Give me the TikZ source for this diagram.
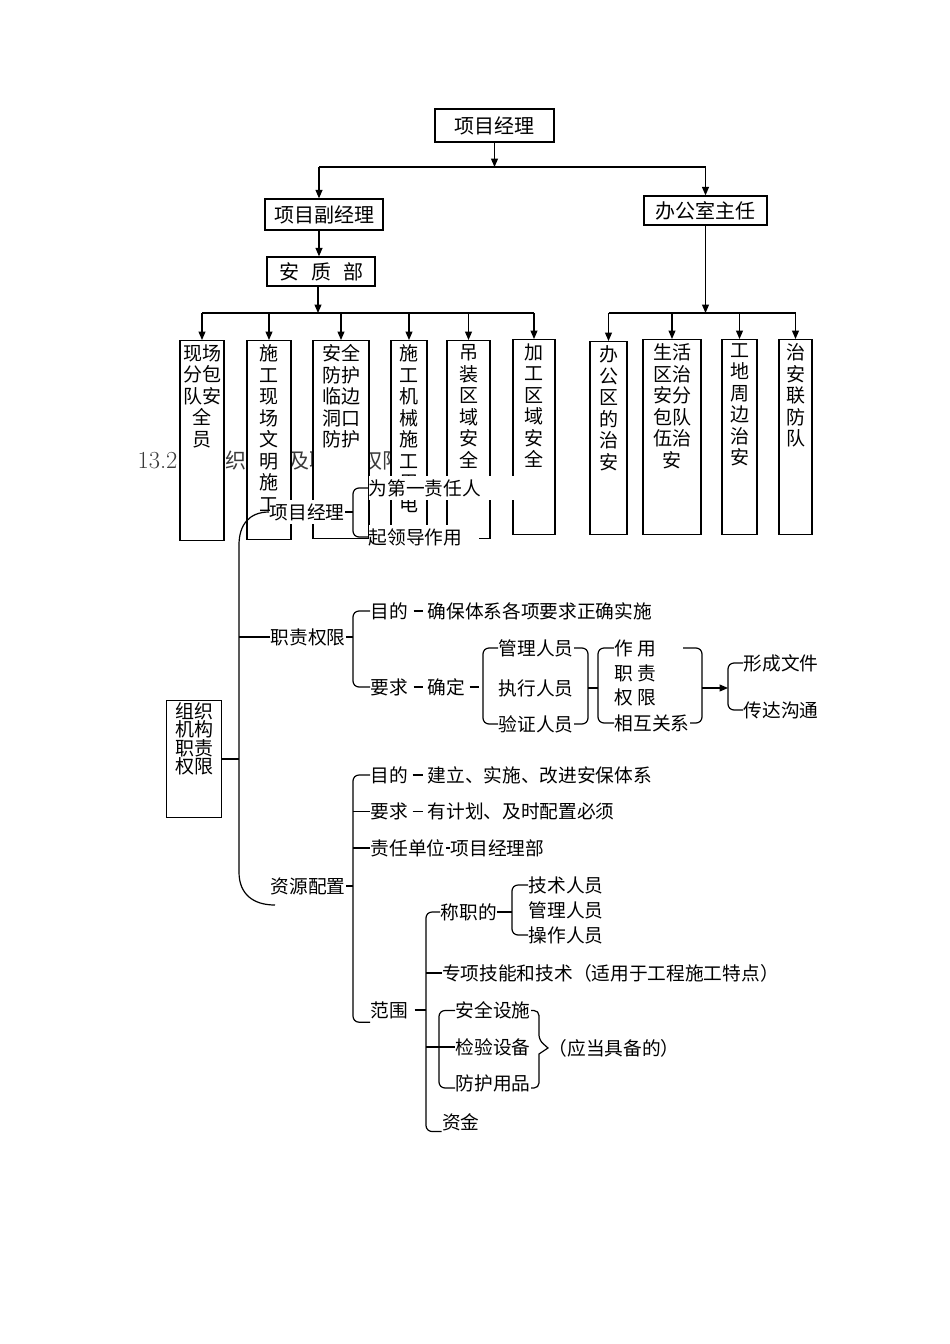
\documentclass[tikz,border=0pt]{standalone}
\usepackage{fontspec}
\usepackage{tikz}
\usetikzlibrary{arrows.meta,calc}
\newfontfamily\cjk{Noto Sans CJK SC}
\definecolor{HeadGray}{HTML}{3A3A3A}
\newcommand{\colbox}[3]{\parbox[t][#1][t]{#2}{\centering\vspace*{4pt}#3}}

\begin{document}
\begin{tikzpicture}[x=1pt,y=-1pt,line width=1.2pt,
  font=\cjk\fontsize{18.7}{21.5}\selectfont,
  arr/.style={-{Triangle[length=8.5pt,width=7pt]}},
  topbox/.style={draw,fill=white,inner sep=0pt,line width=1.3pt,font=\cjk\fontsize{20}{24}\selectfont},
  colnode/.style={draw,fill=white,inner sep=0pt,anchor=north,line width=1.3pt,font=\cjk\fontsize{19}{21.5}\selectfont},
  leaf/.style={anchor=west,inner sep=0pt},
  cover/.style={leaf,fill=white,inner ysep=3pt},
  brc/.style={rounded corners=6pt}]
  \useasboundingbox (0,0) rectangle (950,1344);

  % heading, mostly hidden behind the boxes
  \node[leaf,text=HeadGray,font=\cjk\fontsize{21}{24}\selectfont] (head) at (137,461)
    {{\rmfamily\fontsize{24.5}{26}\selectfont 13.2}\hspace{27pt}组织机构及职责\hspace{10.5pt}权限};

  % org chart
  \node[topbox,minimum width=119pt,minimum height=33pt] (pm) at (494.5,125.5) {项目经理};
  \node[topbox,minimum width=118pt,minimum height=31pt] (dpm) at (324,214.5) {项目副经理};
  \node[topbox,minimum width=123pt,minimum height=29pt] (om) at (705.5,210.5) {办公室主任};
  \node[topbox,minimum width=108pt,minimum height=29pt] (aqb) at (321,271.5)
    {安\hspace{12pt}质\hspace{12pt}部};

  \node[colnode] (b1) at (202,340) {\colbox{200pt}{44pt}{现场\\分包\\队安\\全\\员}};
  \node[colnode] (b2) at (269,340) {\colbox{199pt}{44pt}{施\\工\\现\\场\\文\\明\\施\\工}};
  \node[colnode] (b3) at (341,340) {\colbox{198pt}{56pt}{安全\\防护\\临边\\洞口\\防护}};
  \node[colnode] (b4) at (409,340) {\colbox{198pt}{36pt}{施\\工\\机\\械\\施\\工\\用\\电}};
  \node[colnode] (b5) at (468.5,340) {\colbox{198pt}{43pt}{吊\\装\\区\\域\\安\\全}};
  \node[colnode] (b6) at (534,339) {\colbox{195pt}{42pt}{加\\工\\区\\域\\安\\全}};
  \node[colnode] (b7) at (608.5,341) {\colbox{193pt}{37pt}{办\\公\\区\\的\\治\\安}};
  \node[colnode] (b8) at (672,339) {\colbox{195pt}{58pt}{生活\\区治\\安分\\包队\\伍治\\安}};
  \node[colnode] (b9) at (739.5,339) {\colbox{195pt}{35pt}{工\\地\\周\\边\\治\\安}};
  \node[colnode] (b10) at (795.5,339) {\colbox{195pt}{33pt}{治\\安\\联\\防\\队}};

  \coordinate (jt) at (495,167);
  \draw[arr] (pm.south) -- (pm.south |- jt);
  \draw ([xshift=-5pt]dpm.north |- jt) -- (om.north |- jt);
  \draw[arr] ([xshift=-5pt]dpm.north |- jt) -- ([xshift=-5pt]dpm.north);
  \draw[arr] (om.north |- jt) -- (om.north);
  \draw[arr] ([xshift=-5pt]dpm.south) -- ([xshift=-5pt]dpm.south |- aqb.north);
  \coordinate (lbus) at (318,313);
  \coordinate (rbus) at (707,313);
  \draw[arr] ([xshift=-3pt]aqb.south) -- ([xshift=-3pt]aqb.south |- lbus);
  \draw[arr] (om.south) -- (om.south |- rbus);
  \draw (b1.north |- lbus) -- (b6.north |- lbus);
  \draw (b7.north |- rbus) -- (b10.north |- rbus);
  \foreach \b in {b1,b2,b3,b4,b5,b6}
    \draw[arr] (\b.north |- lbus) -- (\b.north);
  \foreach \b in {b7,b8,b9,b10}
    \draw[arr] (\b.north |- rbus) -- (\b.north);

  % duties tree
  \node[draw,inner sep=0pt,line width=1.3pt] (zz) at (194.2,759)
    {\parbox[t][116.6pt][t]{55pt}{\centering\fontsize{19}{18.3}\selectfont\vspace*{2pt}组织\\机构\\职责\\权限}};
  \coordinate (spine) at (239,0);
  \node[cover] (pmx) at (269,512) {项目经理};
  \node[cover,text width=145pt] (lead1) at (368,488) {为第一责任人};
  \node[cover,text width=110pt] (lead2) at (368,537) {起领导作用};
  \node[leaf] (zq) at (270,637) {职责权限};
  \node[leaf] (goal1) at (370,611) {目的};
  \node[leaf] (goal1t) at (427,611) {确保体系各项要求正确实施};
  \node[leaf] (req1) at (370,687) {要求};
  \node[leaf] (fix) at (427,687) {确定};
  \node[leaf] (mgr) at (498,648) {管理人员};
  \node[leaf] (exe) at (498,688) {执行人员};
  \node[leaf] (ver) at (498,724) {验证人员};
  \node[leaf] (role1) at (614,648) {作 用};
  \node[leaf] (role2) at (614,673) {职 责};
  \node[leaf] (role3) at (614,697) {权 限};
  \node[leaf] (role4) at (614,723) {相互关系};
  \node[leaf] (doc1) at (743,663) {形成文件};
  \node[leaf] (doc2) at (743,710) {传达沟通};

  \node[leaf] (goal2) at (370,775) {目的};
  \node[leaf] (goal2t) at (427,775) {建立、实施、改进安保体系};
  \node[leaf] (req2) at (370,811.5) {要求};
  \node[leaf] (req2t) at (427,811.5) {有计划、及时配置必须};
  \node[leaf] (resp) at (370,848) {责任单位};
  \node[leaf] (respt) at (450,848) {项目经理部};
  \node[leaf] (res) at (270,886) {资源配置};
  \node[leaf] (scope) at (370,1010) {范围};
  \node[leaf] (qual) at (440,912) {称职的};
  \node[leaf] (tech) at (528,885) {技术人员};
  \node[leaf] (mgr2) at (528,910.5) {管理人员};
  \node[leaf] (oper) at (528,935) {操作人员};
  \node[leaf] (spec) at (441.5,973) {专项技能和技术（适用于工程施工特点）};
  \node[leaf] (safe) at (455,1010.5) {安全设施};
  \node[leaf] (insp) at (455,1047) {检验设备};
  \node[leaf] (prot) at (455,1083) {防护用品};
  \node[leaf] (need) at (548,1048) {（应当具备的）};
  \node[leaf] (fund) at (441.5,1122.5) {资金};

  % main brace
  \coordinate (rend) at (275,905);
  \draw (pmx.west) .. controls +(-20,0) and +(0,-20) .. ($(pmx.west -| spine)+(0,33)$)
    -- ($(spine)+(0,872)$) .. controls +(0,22) and +(-22,0) .. (rend);
  \draw (zz.east) -- (zz.east -| spine);
  \draw (zq.west -| spine) -- (zq.west);

  \draw (pmx.east) -- ([xshift=-15pt]lead1.west |- pmx.east);
  \draw[brc] (lead1.west) -- ++(-15,0) |- (lead2.west);

  \draw (zq.east) -- ([xshift=-17pt]goal1.west |- zq.east);
  \draw[brc] (goal1.west) -- ++(-17,0) |- (req1.west);
  \draw ([xshift=5pt]goal1.east) -- ([xshift=-4pt]goal1t.west);
  \draw ([xshift=5pt]req1.east) -- ([xshift=-4pt]fix.west);
  \draw ([xshift=4pt]fix.east) -- ([xshift=-19pt]mgr.west |- fix.east);
  \draw[brc] (mgr.west) -- ++(-15,0) |- (ver.west);
  \draw[brc] (mgr.east) -- ++(14,0) |- (ver.east);
  \draw ([xshift=14pt]exe.east) -- ([xshift=-16pt]role1.west |- exe.east);
  \draw[brc] (role1.west) -- ++(-16,0) |- (role4.west);
  \draw[brc] ([xshift=-7pt]role4.east |- role1.east) -- ++(19,0) |- (role4.east);
  \draw[arr] ([xshift=12pt]role4.east |- exe.east) -- ([xshift=-15pt]doc1.west |- exe.east);
  \draw[brc] (doc1.west) -- ++(-15,0) |- (doc2.west);

  \draw[brc] (goal2.west) -- ++(-17,0) |- ([yshift=-3pt]scope.south west);
  \draw (req2.west) -- ++(-17,0);
  \draw (resp.west) -- ++(-17,0);
  \draw (res.east) -- ([xshift=-17pt]goal2.west |- res.east);
  \draw ([xshift=4pt]goal2.east) -- ([xshift=-4pt]goal2t.west);
  \draw ([xshift=4pt]req2.east) -- ([xshift=-4pt]req2t.west);
  \draw (resp.east) -- (respt.west);

  \draw ([xshift=6pt]scope.east) -- ([xshift=-14pt]qual.west |- scope.east);
  \draw[brc] (qual.west) -- ++(-14,0) |- ([yshift=-9pt]fund.west);
  \draw ([xshift=-14pt]qual.west |- spec.west) -- (spec.west);
  \draw ([xshift=-14pt]qual.west |- insp.west) -- (insp.west);
  \draw (qual.east) -- ([xshift=-16pt]tech.west |- qual.east);
  \draw[brc] (tech.west) -- ++(-16,0) |- (oper.west);
  \draw[brc] (safe.west) -- ++(-16,0) |- ([yshift=-5pt]prot.west);
  \draw (safe.east) [rounded corners=5pt] -| ($(insp.east)+(8,-7)$) [sharp corners]
    -- (need.west) -- ($(insp.east)+(8,7)$) [rounded corners=5pt] |- ([yshift=-5pt]prot.east);
\end{tikzpicture}
\end{document}
